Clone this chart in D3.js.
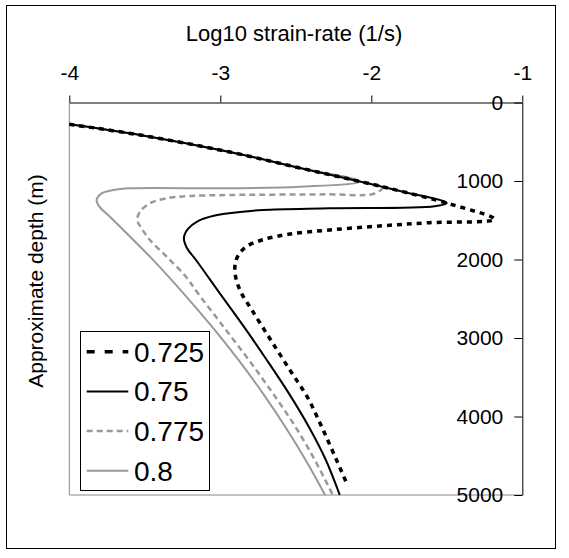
<!DOCTYPE html>
<html>
<head>
<meta charset="utf-8">
<script src="https://cdn.jsdelivr.net/npm/d3@7"></script>
<style>
  body { margin: 0; background: #fff; }
  text { font-family: "Liberation Sans", Arial, sans-serif; }
</style>
</head>
<body>
<div id="vis1"></div>
<script>
const FRAME_WIDTH = 569;
const FRAME_HEIGHT = 558;

// x: log10 strain-rate, y: depth (m)
const X_TICKS = [-4, -3, -2, -1];
const Y_TICKS = [0, 1000, 2000, 3000, 4000, 5000];
const SERIES_NAMES = ["0.725", "0.75", "0.775", "0.8"];

// shared upper branch (all curves run along it before turning back)
const UPPER = [[-4, 278], [-3.532, 414], [-2.936, 631], [-2.473, 834], [-2.076, 1006],
               [-1.791, 1136], [-1.48, 1293], [-1.183, 1488]];

const LOWER_0725 = [[-1.613, 1531], [-1.944, 1573], [-2.275, 1624], [-2.539, 1675],
                    [-2.725, 1752], [-2.831, 1841], [-2.884, 1956], [-2.903, 2083],
                    [-2.897, 2236], [-2.864, 2414], [-2.791, 2643], [-2.666, 3025],
                    [-2.539, 3408], [-2.42, 3764], [-2.334, 4108], [-2.248, 4478],
                    [-2.155, 4886]];

const LOWER_075 = [[-1.5, 1280], [-1.58, 1322], [-2.275, 1348], [-2.718, 1369],
                   [-2.87, 1395], [-3.036, 1440], [-3.148, 1510], [-3.214, 1611],
                   [-3.241, 1726], [-3.221, 1853], [-3.161, 2006], [-3.003, 2431],
                   [-2.844, 2856], [-2.692, 3280], [-2.546, 3705], [-2.414, 4130],
                   [-2.301, 4554], [-2.209, 5000]];

const LOWER_0775 = [[-1.925, 1077], [-1.98, 1160], [-2.3, 1170], [-2.936, 1178],
                    [-3.201, 1191], [-3.355, 1220], [-3.466, 1284], [-3.532, 1391],
                    [-3.55, 1497], [-3.521, 1603], [-3.466, 1752], [-3.355, 1964],
                    [-3.228, 2219], [-3.148, 2431], [-2.979, 2856], [-2.811, 3280],
                    [-2.652, 3705], [-2.503, 4130], [-2.374, 4554], [-2.255, 5000]];

const LOWER_08 = [[-2.473, 1073], [-2.936, 1093], [-3.598, 1093], [-3.709, 1115],
                  [-3.786, 1157], [-3.819, 1242], [-3.801, 1327], [-3.731, 1455],
                  [-3.62, 1666], [-3.466, 1964], [-3.244, 2431], [-3.055, 2856],
                  [-2.88, 3280], [-2.718, 3705], [-2.57, 4130], [-2.435, 4554],
                  [-2.306, 5000]];

const SERIES_DATA = [
  UPPER.concat(LOWER_0725),
  UPPER.slice(0, 6).concat(LOWER_075),
  UPPER.slice(0, 5).concat(LOWER_0775),
  UPPER.slice(0, 5).concat(LOWER_08)
];

const STYLES = [
  {color: "#000", width: 3.5, dash: "5,5"},
  {color: "#000", width: 2, dash: null},
  {color: "#999", width: 2.5, dash: "6,4"},
  {color: "#999", width: 2, dash: null}
];

const PLOT = {left: 69.3, right: 522.3, top: 102.5, bottom: 495};

const FRAME = d3.select("#vis1")
                .append("svg")
                  .attr("width", FRAME_WIDTH)
                  .attr("height", FRAME_HEIGHT);

FRAME.append("rect")
      .attr("x", 6.5).attr("y", 5.5)
      .attr("width", 549).attr("height", 543)
      .attr("fill", "none").attr("stroke", "#000");

const X_SCALE = d3.scaleLinear().domain([-4, -1]).range([PLOT.left, PLOT.right]);
const Y_SCALE = d3.scaleLinear().domain([0, 5000]).range([PLOT.top, PLOT.bottom]);

// grey plot-area edges (left, bottom)
FRAME.append("path")
      .attr("d", "M" + PLOT.left + "," + PLOT.top + "V" + PLOT.bottom + "H" + PLOT.right)
      .attr("fill", "none").attr("stroke", "#888").attr("stroke-width", 1);

const line = d3.line()
               .x((d) => X_SCALE(d[0]))
               .y((d) => Y_SCALE(d[1]))
               .curve(d3.curveCatmullRom.alpha(0.5));

// draw in reverse so black lines sit on top
[3, 2, 1, 0].forEach((i) => {
  FRAME.append("path")
        .attr("d", line(SERIES_DATA[i]))
        .attr("fill", "none")
        .attr("stroke", STYLES[i].color)
        .attr("stroke-width", STYLES[i].width)
        .attr("stroke-dasharray", STYLES[i].dash);
});

// top axis
const xAxis = FRAME.append("g")
      .attr("transform", "translate(0," + PLOT.top + ")")
      .call(d3.axisTop(X_SCALE).tickValues(X_TICKS).tickSize(7).tickSizeOuter(0)
              .tickPadding(16).tickFormat((d) => String(d)));
xAxis.selectAll("text").attr("font-size", 21).attr("fill", "#000")
     .style("font-family", "'Liberation Sans', Arial, sans-serif");

// right axis, ticks and labels inside
const yAxis = FRAME.append("g")
      .attr("transform", "translate(" + PLOT.right + ",0)")
      .call(d3.axisLeft(Y_SCALE).tickValues(Y_TICKS).tickSize(8).tickSizeOuter(0)
              .tickPadding(11).tickFormat((d) => String(d)));
yAxis.selectAll("text").attr("font-size", 21).attr("fill", "#000")
     .style("font-family", "'Liberation Sans', Arial, sans-serif");
[xAxis, yAxis].forEach((g) => {
  g.select(".domain").attr("stroke", "#000");
  g.selectAll("line").attr("stroke", "#000");
});

FRAME.append("text")
      .attr("x", 294).attr("y", 41)
      .attr("text-anchor", "middle").attr("font-size", 22)
      .text("Log10 strain-rate (1/s)");

FRAME.append("text")
      .attr("transform", "translate(43,281) rotate(-90)")
      .attr("text-anchor", "middle").attr("font-size", 21)
      .text("Approximate depth (m)");

// legend
const LEG = FRAME.append("g");
LEG.append("rect")
   .attr("x", 80.5).attr("y", 331.5).attr("width", 129).attr("height", 159)
   .attr("fill", "#fff").attr("stroke", "#000");
SERIES_NAMES.forEach((name, i) => {
  const yy = 351.7 + i * 39.7;
  LEG.append("line")
     .attr("x1", 86.7).attr("x2", 128.3).attr("y1", yy).attr("y2", yy)
     .attr("stroke", STYLES[i].color)
     .attr("stroke-width", STYLES[i].width)
     .attr("stroke-dasharray", i === 0 ? "8,10" : STYLES[i].dash);
  LEG.append("text")
     .attr("x", 134).attr("y", yy + 10)
     .attr("font-size", 28)
     .text(name);
});
</script>
</body>
</html>
